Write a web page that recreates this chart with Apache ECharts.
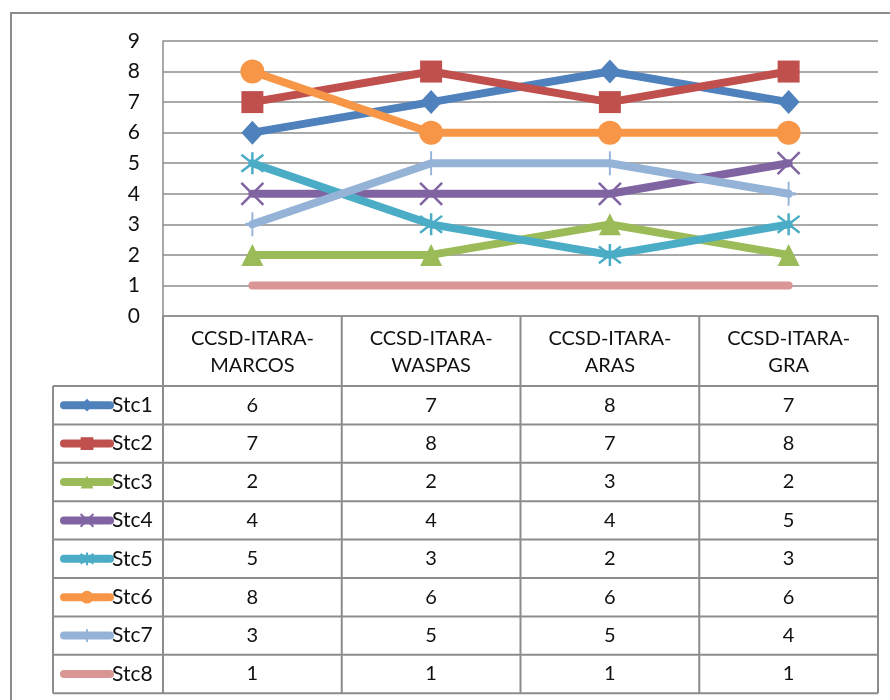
<!DOCTYPE html>
<html>
<head>
<meta charset="utf-8">
<script src="https://cdn.jsdelivr.net/npm/echarts@6/dist/echarts.min.js"></script>
<style>
html,body{margin:0;padding:0;background:#fff;}
#c{width:890px;height:700px;}
</style>
</head>
<body>
<div id="c"></div>
<script>
// ---- data ----
const categories = ['CCSD-ITARA-\nMARCOS', 'CCSD-ITARA-\nWASPAS', 'CCSD-ITARA-\nARAS', 'CCSD-ITARA-\nGRA'];
const seriesNames = ['Stc1', 'Stc2', 'Stc3', 'Stc4', 'Stc5', 'Stc6', 'Stc7', 'Stc8'];
const stc1 = [6, 7, 8, 7];
const stc2 = [7, 8, 7, 8];
const stc3 = [2, 2, 3, 2];
const stc4 = [4, 4, 4, 5];
const stc5 = [5, 3, 2, 3];
const stc6 = [8, 6, 6, 6];
const stc7 = [3, 5, 5, 4];
const stc8 = [1, 1, 1, 1];
const seriesValues = [stc1, stc2, stc3, stc4, stc5, stc6, stc7, stc8];
const yMin = 0, yMax = 9, yStep = 1;

// ---- styles ----
const colors = ['#4F81BD', '#C0504D', '#9BBB59', '#8064A2', '#4BACC6', '#F79646', '#95B3D7', '#D99694'];
const symbols = [
  'diamond', 'rect', 'triangle',
  'path://M0,0 L10,10 M10,0 L0,10',
  'path://M0,0 L10,10 M10,0 L0,10 M5,-1.5 L5,11.5',
  'circle',
  'path://M5,0 L5,10 M0,5 L10,5',
  'none'
];
const symbolSizes = [[22, 24], 22, 22, 22, 22, 24, [14, 24], 0];
const strokeSymbols = [false, false, false, true, true, false, true, false];
const FONT = 'Lato, "Open Sans", sans-serif';
const GRAY = '#8c8c8c';

// ---- layout ----
const W = 890, H = 700;
const GRID_L = 163, GRID_R_X = 878, GRID_T = 41, GRID_B_Y = 316;
const HEADER_H = 70, ROW_H = 38.4, LEG_L = 53;

const chart = echarts.init(document.getElementById('c'), null, {renderer: 'canvas'});

const series = seriesNames.map((name, i) => ({
  name: name,
  type: 'line',
  data: seriesValues[i],
  color: colors[i],
  symbol: symbols[i],
  symbolSize: symbolSizes[i],
  showSymbol: symbols[i] !== 'none',
  lineStyle: {width: 8, color: colors[i], cap: 'round', join: 'round'},
  itemStyle: strokeSymbols[i]
    ? {color: colors[i], borderColor: colors[i], borderWidth: 2.5}
    : {color: colors[i]},
  emphasis: {disabled: true},
  animation: false,
  z: 2 + i
}));

const legendData = seriesNames.map((name, i) => symbols[i] === 'none'
  ? {name: name, itemStyle: {color: 'rgba(0,0,0,0)', borderWidth: 0, opacity: 0}}
  : {name: name});

// table graphics built from layout constants and data arrays
function buildTable() {
  const els = [];
  const nCol = categories.length;
  const colW = (GRID_R_X - GRID_L) / nCol;
  const tableTop = GRID_B_Y + HEADER_H;
  const tableBottom = tableTop + ROW_H * seriesNames.length;
  const ls = {stroke: GRAY, lineWidth: 2};
  els.push({type: 'rect', shape: {x: 11, y: 13, width: W, height: H}, style: {fill: 'none', stroke: GRAY, lineWidth: 2}, z: 1});
  for (let c = 0; c <= nCol; c++) {
    const x = GRID_L + c * colW;
    els.push({type: 'line', shape: {x1: x, y1: GRID_B_Y, x2: x, y2: tableBottom}, style: ls, z: 1});
  }
  els.push({type: 'line', shape: {x1: LEG_L, y1: tableTop, x2: LEG_L, y2: tableBottom}, style: ls, z: 1});
  for (let r = 0; r <= seriesNames.length; r++) {
    const y = tableTop + r * ROW_H;
    els.push({type: 'line', shape: {x1: LEG_L, y1: y, x2: GRID_R_X, y2: y}, style: ls, z: 1});
  }
  seriesValues.forEach((vals, r) => {
    vals.forEach((v, c) => {
      els.push({
        type: 'text',
        x: GRID_L + (c + 0.5) * colW,
        y: tableTop + (r + 0.5) * ROW_H,
        style: {text: String(v), font: '20px ' + FONT, fill: '#111', align: 'center', verticalAlign: 'middle'},
        z: 3
      });
    });
  });
  return els;
}

const option = {
  backgroundColor: '#fff',
  animation: false,
  grid: {left: GRID_L, right: W - GRID_R_X, top: GRID_T, bottom: H - GRID_B_Y, containLabel: false},
  xAxis: {
    type: 'category',
    data: categories,
    boundaryGap: true,
    axisLine: {show: true, lineStyle: {color: GRAY, width: 1.5}},
    axisTick: {show: false},
    axisLabel: {interval: 0, margin: 9, fontSize: 20, fontFamily: FONT, color: '#111', lineHeight: 27, align: 'center'},
    splitLine: {show: false}
  },
  yAxis: {
    type: 'value',
    min: yMin, max: yMax, interval: yStep,
    axisLine: {show: true, lineStyle: {color: GRAY, width: 1.5}},
    axisTick: {show: false},
    axisLabel: {margin: 23, fontSize: 21, fontFamily: FONT, color: '#111'},
    splitLine: {show: true, lineStyle: {color: GRAY, width: 1.5}}
  },
  legend: {
    orient: 'vertical',
    left: LEG_L + 7,
    top: GRID_B_Y + HEADER_H + (ROW_H - 22) / 2,
    itemWidth: 46,
    itemHeight: 16,
    itemGap: ROW_H - 22,
    padding: 0,
    selectedMode: false,
    data: legendData,
    lineStyle: {width: 8, cap: 'round'},
    textStyle: {fontSize: 21, fontFamily: FONT, color: '#111', lineHeight: 22, padding: [0, 0, 0, -3]}
  },
  graphic: buildTable(),
  series: series
};

chart.setOption(option);
</script>
</body>
</html>
